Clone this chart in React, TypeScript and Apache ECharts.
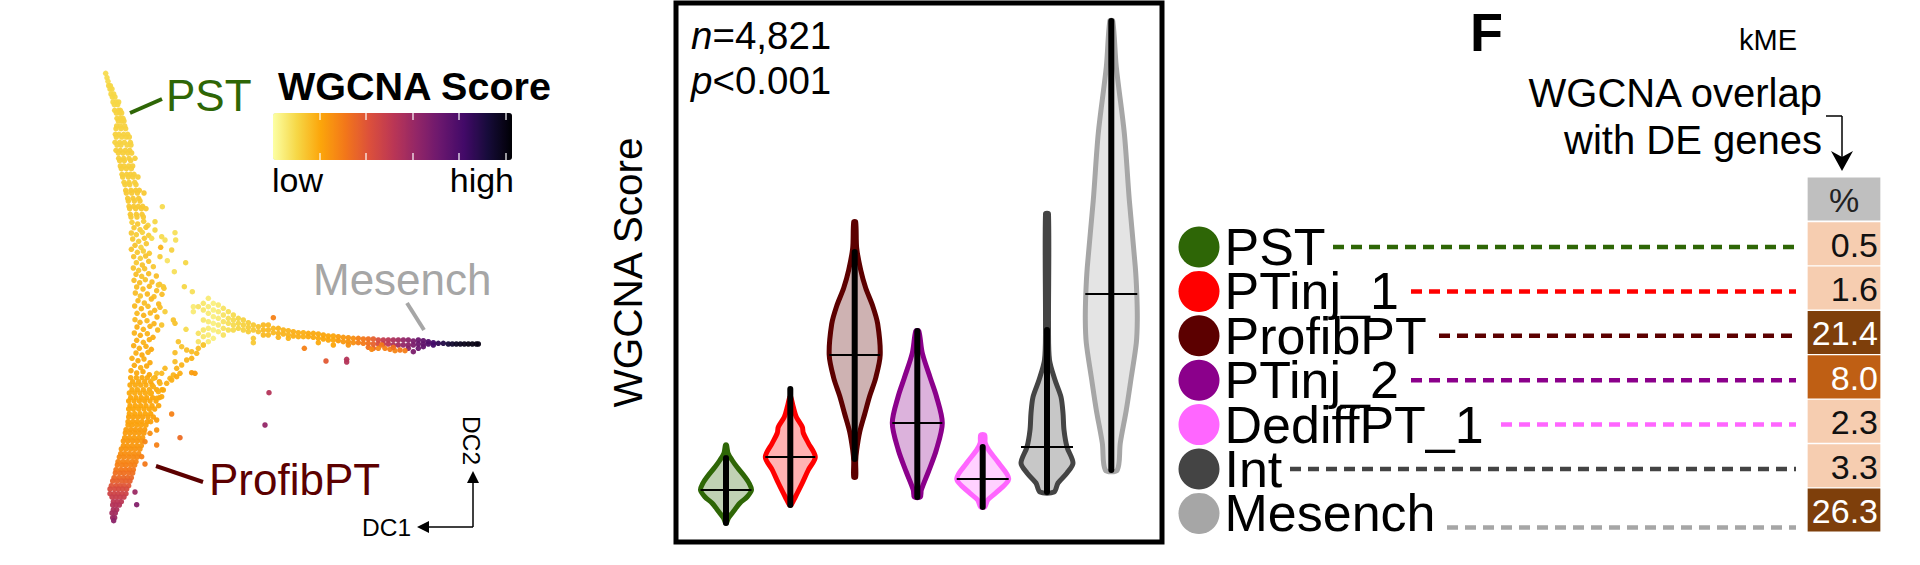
import React, { useEffect, useRef } from "react";
import * as echarts from "echarts";

const FONT = "'Liberation Sans', Arial, sans-serif";

// ---- Embedding (DC1 / DC2), rows: [DC2, score, [DC1...]] ----
const spineRows: [number, number, number[]][] = [
  [100,9,[137]],[113,9,[141]],[124,9,[144]],[137,10,[146,151]],[147,10,[150,156]],[162,10,[153,161]],
  [171,10,[157,165]],[186,10,[159,169,176]],[194,10,[163,173]],[211,11,[164,176,181]],[219,11,[169,179,185]],
  [235,11,[171,181,189]],[243,11,[175,186,192]],[258,11,[170,181,194]],[266,11,[168,183,197]],
  [283,11,[166,177,191,203]],[291,11,[169,185,199,208]],[307,11,[165,179,193,211]],[315,11,[171,183,201,213]],
  [331,12,[168,181,196,209]],[339,12,[175,189,203,215]],[355,12,[176,191,207,225]],[362,12,[179,193,212]],
  [378,12,[181,192,206,218]],[386,12,[184,199,214]],[403,12,[186,200,211,222]],[411,12,[188,205,219,234]],
  [427,12,[192,207,224]],[434,12,[195,209,228]],[451,13,[197,213,227,238]],[459,13,[199,215,232,252]],
  [475,13,[203,219,236]],[483,13,[205,223,240]],[499,13,[207,221,235,248]],[506,13,[209,227,244,258]],
  [523,13,[211,229,246]],[531,13,[213,231,250]],
];
const spineMiddle: [number, number, number][] = [
  [216,547,12],[233,552,13],[251,544,12],[264,556,11],[222,563,13],[240,569,12],[258,562,13],[214,579,13],[229,584,12],[247,577,11],
  [266,586,12],[218,597,13],[236,604,12],[253,595,13],[225,616,14],[243,622,11],[259,611,13],[214,628,14],[232,637,13],[250,633,12],
  [268,640,13],[221,650,14],[241,655,12],[257,648,14],[229,668,13],[247,675,14],[266,664,14],[220,684,14],[236,691,13],[254,686,14],
  [280,680,13],[228,703,15],[245,709,14],[266,701,15],[289,708,15],[222,721,15],[239,728,15],[256,719,14],[276,726,15],[299,733,14],
  [312,745,13],[230,741,15],[249,747,15],[268,739,16],[290,752,15],[226,759,15],[241,768,14],[262,762,16],[282,770,15],[306,763,15],
  [234,782,16],[253,789,15],[274,777,16],[296,792,16],[224,798,16],[244,806,17],[264,799,15],[284,811,16],[300,802,15],[231,820,16],
  [251,826,17],[271,819,16],[291,831,17],[225,839,16],[240,847,17],[261,842,16],[282,851,17],[231,861,18],[250,868,17],[270,859,17],
  [293,870,16],[223,879,17],[241,886,18],[262,881,17],[279,892,18],[230,901,18],[250,907,17],[268,899,18],[221,917,18],[238,925,18],
  [258,919,18],[274,928,19],[228,939,18],[246,945,19],[264,937,18],[216,955,18],[234,962,19],[252,957,18],[270,968,19],[223,976,19],
  [242,983,18],[260,978,19],[213,992,19],[230,999,19],[249,995,19],[268,1004,20],
];
const spineLowerRows: [number, number, number[]][] = [
  [1013,19,[212,229,246,262,285]],[1025,19,[218,236,254,272,298]],
  [1035,19,[210,226,242,258,276]],[1049,19,[216,232,250,268,290,306]],[1059,19,[208,224,240,256,274]],
  [1073,20,[212,228,244,260,278,298]],[1083,20,[206,222,238,254,270,288]],[1097,20,[210,226,242,258,276,296]],
  [1107,20,[206,220,236,252,268,284]],[1121,20,[208,224,240,256,272]],[1131,21,[206,220,234,248,264,280]],
  [1145,21,[204,218,232,246,262,272]],[1155,21,[204,216,230,244,258]],[1169,22,[198,212,226,240,254]],
  [1179,22,[196,210,224,238,252]],[1193,22,[194,208,222,236,248]],[1203,23,[190,204,218,232,246]],
  [1217,23,[190,202,216,230,244]],[1227,24,[184,198,212,226,240]],[1241,25,[182,194,208,222,236]],
  [1251,26,[178,192,206,220,232]],[1265,27,[174,188,202,216,228]],[1275,28,[172,186,198,212,224]],
  [1289,30,[168,182,196,208,220]],[1299,32,[166,180,192,206,218]],[1313,34,[162,176,190,202,214]],
  [1323,36,[158,172,186,198,210]],[1337,39,[154,168,180,192,206]],[1347,42,[150,164,176,188,200]],
  [1361,45,[150,162,174,186,198]],[1371,47,[156,168,180,192]],[1385,50,[160,172,184]],
  [1395,52,[158,168,178]],[1409,54,[160,170]],[1419,56,[156,166]],[1433,58,[158,164]],[1442,62,[161]],
];

// Columns: [DC1, score, [DC2...]]
const fanColumns: [number, number, number[]][] = [
  [400,5,[800,815]],[415,7,[800,880,905]],[430,6,[790,810,840,870,890,915]],[445,5,[775,800,820,845,865,885,905]],
  [460,4,[790,810,830,850,870,895]],[475,5,[795,815,835,855,875]],[490,7,[805,825,845,865,885]],
  [505,8,[815,835,850,870]],[520,9,[825,840,855,870]],[535,10,[835,850,865]],[550,11,[840,855,870]],
  [565,12,[848,862,875]],[580,13,[855,870,895,908]],[595,14,[860,875]],
];
const mesenchColumns: [number, number, number[]][] = [
  [610,16,[855,870,885]],[625,16,[855,870,885]],[640,16,[865,878]],[655,17,[865,880,892]],[670,17,[870,882]],
  [685,17,[872,885,895]],[700,18,[875,888]],[715,18,[878,890]],[730,18,[878,890]],[745,19,[880,890]],
  [760,19,[880,892]],[775,19,[882,895,908]],[790,20,[885,897]],[805,20,[888,900]],[820,20,[888,900,915]],
  [835,22,[890,902]],[850,23,[892,905]],[865,24,[893,905,915]],[880,25,[895,908]],[895,28,[895,908]],
  [910,30,[897,910]],[925,32,[897,910,922]],[940,36,[897,912,925]],[955,42,[900,912]],[970,48,[900,912]],
  [985,50,[900,912]],[1000,54,[900,915]],[1015,56,[900,915]],[1030,60,[900,915]],[1045,62,[900,915,925]],
  [1060,66,[903,915,935]],[1075,70,[900,912,925]],[1090,72,[902,912,920]],[1105,76,[905,912]],[1120,80,[908,915]],
  [1135,84,[910]],[1150,87,[910]],[1165,90,[912]],[1177,92,[912]],[1189,94,[912]],[1201,95,[912]],
  [1213,96,[912]],[1225,97,[912]],[1237,97,[912]],[1249,97,[912]],[1255,97,[912]],
];
const orangeUnderside: [number, number, number][] = [
  [935,928,26],[955,925,27],[975,925,28],[990,928,29],[1005,932,27],[1020,930,30],[1035,932,29],[965,915,30],[1000,922,32],
];
const branchPoints: [number, number, number][] = [
  [355,905,14],[365,920,14],[345,938,15],[380,930,15],[395,935,15],[415,925,15],[430,915,14],[395,955,17],[410,940,16],
  [380,960,17],[365,975,17],[350,985,17],[360,1000,18],[340,1005,17],[330,1015,17],[315,985,16],[345,965,15],[305,1000,16],
  [290,1000,15],[280,1015,16],[300,1030,17],[320,1030,18],[335,1020,18],[350,1010,19],[310,1050,19],[295,1055,18],
  [280,1040,18],[270,1060,18],[305,1070,19],[290,1075,19],[395,998,22],[405,1000,22],
];
const strayPoints: [number, number, number][] = [
  [307,500,9],[285,545,10],[285,570,10],[275,595,9],[345,578,8],[347,600,8],[305,590,9],[315,600,8],[302,622,17],[335,630,11],
  [322,662,7],[377,668,10],[343,695,8],[300,650,12],[295,735,13],[310,740,13],[373,740,10],[397,755,8],
  [315,815,12],[340,840,14],[345,850,14],[305,855,14],[378,868,9],[640,833,28],
  [335,1122,28],[360,1193,33],[290,1140,22],[290,1170,24],[270,1180,25],[290,1215,28],[255,1205,27],[245,1250,28],[255,1272,30],
  [225,1356,58],[230,1394,64],[627,1058,52],[615,1155,60],[733,925,28],[798,963,38],[860,958,52],[860,966,52],
];
const embedding = [
  ...spineRows.flatMap(([y, s, xs]) => xs.map((x) => [x, y, s])),
  ...spineMiddle,
  ...spineLowerRows.flatMap(([y, s, xs]) => xs.map((x) => [x, y, s])),
  ...fanColumns.flatMap(([x, s, ys]) => ys.map((y) => [x, y, s])),
  ...mesenchColumns.flatMap(([x, s, ys]) => ys.map((y) => [x, y, s])),
  ...orangeUnderside,
  ...branchPoints,
  ...strayPoints,
];

// ---- Cell groups ----
const groups = ["PST", "PTinj_1", "ProfibPT", "PTinj_2", "DediffPT_1", "Int", "Mesench"];
const groupColors = ["#2e6606", "#ff0000", "#5c0000", "#8b008b", "#ff66ff", "#444444", "#a6a6a6"];

// ---- Violins: [score, half width] ----
const violinPST = [[97,0.5],[89,2],[82,6],[75,11],[65,19],[59,23],[52,25.5],[45,21],[39,14],[30,7],[24,2.5],[19,0.5]];
const violinPTinj1 = [[145,0.5],[135,3],[125,6],[115,12],[109,13],[99,18],[85,25],[72,18],[59,12],[45,5],[37,0.8]];
const violinProfib = [[320,1],[294,2],[272,6],[254,11],[236,18],[218,23],[187,25.5],[164,21],[146,15],[128,10],[110,5],[92,2],[81,1],[65,1]];
const violinPTinj2 = [[211,1.5],[189,5],[164,13],[146,19],[119,25],[92,19],[70,11],[52,4],[45,3]];
const violinDediff = [[107,2],[99,2.5],[92,6],[79,16],[63,26],[49,13],[42,5],[35,2]];
const violinInt = [[328,1.5],[212,1.5],[182,2.5],[162,8],[145,14],[129,16],[112,17],[95,20],[79,26],[69,20],[59,11],[50,7]];
const violinMesench = [[521,1.5],[475,5],[409,13],[342,18],[275,24],[248,25.5],[222,26],[199,25],[165,20],[132,15],[99,9],[72,6]];
const violins = [violinPST, violinPTinj1, violinProfib, violinPTinj2, violinDediff, violinInt, violinMesench];
const violinMedians = [52, 85, 187, 119, 63, 95, 248];
const violinBarTops = [84, 153, 290, 211, 95, 212, 521];
const violinBarBottoms = [19, 37, 83, 45, 35, 50, 72];
const violinSlots = [0, 64.3, 128.7, 191.3, 256.7, 321, 385.3];

// ---- Overlap table ----
const overlapLabels = ["0.5", "1.6", "21.4", "8.0", "2.3", "3.3", "26.3"];
const overlapFills = ["#f6cdb0", "#f6cdb0", "#7e3f0b", "#bf5f14", "#f6cdb0", "#f6cdb0", "#7e3f0b"];
const overlapInk = ["#111", "#111", "#fff", "#fff", "#111", "#111", "#fff"];

// Layout of the leaders in the legend panel
const leaderStarts = [1333, 1411, 1439, 1411, 1501, 1290, 1447];
const leaderRows = [0, 1, 2, 3, 4, 5, 6.32];

const inferno = ["#fcffa4", "#f6d746", "#fca50a", "#f37819", "#dd513a", "#bc3754", "#932667", "#6a176e", "#420a68", "#160b39", "#000004"];

function txt(text: string, x: number, base: number, size: number, extra: any = {}, el: any = {}) {
  return {
    type: "text", x, y: base - size * 0.35, z: 30, silent: true, ...el,
    style: { text, fontSize: size, fontFamily: FONT, fill: "#000", verticalAlign: "middle", align: "left", ...extra },
  };
}
function seg(x1: number, y1: number, x2: number, y2: number, stroke: string, lineWidth: number) {
  return { type: "line", z: 30, silent: true, shape: { x1, y1, x2, y2 }, style: { stroke, lineWidth } };
}
function poly(points: number[][], fill: string) {
  return { type: "polygon", z: 30, silent: true, shape: { points }, style: { fill } };
}

export default function App() {
  const ref = useRef<HTMLDivElement>(null);
  useEffect(() => {
    const chart = echarts.init(ref.current!, undefined, { renderer: "svg" });
    const tick = [320, 366, 413, 459, 506];
    const option: any = {
      animation: false,
      backgroundColor: "#fff",
      grid: [
        { left: 60, top: 40, width: 480, height: 525 },
        { left: 676, top: 3, width: 486, height: 539, show: true, borderColor: "#000", borderWidth: 5, backgroundColor: "transparent" },
        { left: 1160, top: 202.6, width: 760, height: 355.2 },
      ],
      xAxis: [
        { gridIndex: 0, type: "value", min: 0, max: 1440, show: false },
        { gridIndex: 1, type: "value", min: -50, max: 436, show: false },
        { gridIndex: 2, type: "value", min: 1160, max: 1920, show: false },
      ],
      yAxis: [
        { gridIndex: 0, type: "value", min: 0, max: 1575, inverse: true, show: false },
        {
          gridIndex: 1, type: "value", min: 0, max: 539, name: "WGCNA Score", nameLocation: "middle", nameGap: 28,
          nameTextStyle: { fontSize: 40.5, fontFamily: FONT, color: "#000" },
          axisLine: { show: false }, axisTick: { show: false }, axisLabel: { show: false }, splitLine: { show: false },
        },
        { gridIndex: 2, type: "value", min: -1, max: 7, inverse: true, show: false },
      ],
      visualMap: {
        type: "continuous", seriesIndex: 0, dimension: 2, min: 0, max: 100, orient: "horizontal",
        left: 273, top: 113, itemWidth: 47, itemHeight: 239, padding: 0, calculable: false, showLabel: false, text: undefined,
        hoverLink: false, inRange: { color: inferno },
      },
      series: [
        {
          type: "scatter", xAxisIndex: 0, yAxisIndex: 0, symbolSize: 5.5, data: embedding, silent: true,
          itemStyle: { opacity: 0.95 },
        },
        {
          type: "custom", xAxisIndex: 1, yAxisIndex: 1, silent: true, clip: false,
          data: groups.map((_, i) => [violinSlots[i], violinMedians[i], i]),
          renderItem: (params: any, api: any) => {
            const i = params.dataIndex;
            const cx = violinSlots[i];
            const prof = violins[i];
            const right = prof.map(([s, w]) => api.coord([cx + w, s]));
            const left = prof.slice().reverse().map(([s, w]) => api.coord([cx - w, s]));
            const color = groupColors[i];
            const medW = Math.max(...prof.map((p) => p[1]));
            const a = api.coord([cx, violinBarTops[i]]);
            const b = api.coord([cx, violinBarBottoms[i]]);
            const m0 = api.coord([cx - medW, violinMedians[i]]);
            const m1 = api.coord([cx + medW, violinMedians[i]]);
            return {
              type: "group",
              children: [
                {
                  type: "polygon", shape: { points: [...right, ...left], smooth: 0.3 },
                  style: { fill: echarts.color.modifyAlpha(color, 0.3), stroke: color, lineWidth: 5, lineJoin: "round" },
                },
                { type: "line", shape: { x1: a[0], y1: a[1], x2: b[0], y2: b[1] }, style: { stroke: "#000", lineWidth: 6, lineCap: "round" } },
                { type: "line", shape: { x1: m0[0], y1: m0[1], x2: m1[0], y2: m1[1] }, style: { stroke: "#000", lineWidth: 1.8 } },
              ],
            };
          },
        },
        ...groups.map((g, i) => ({
          type: "line", xAxisIndex: 2, yAxisIndex: 2, silent: true, symbol: "none",
          data: [[leaderStarts[i], leaderRows[i]], [1796, leaderRows[i]]],
          lineStyle: { color: groupColors[i], width: 4.5, type: [11, 7] },
        })),
        {
          type: "scatter", xAxisIndex: 2, yAxisIndex: 2, symbolSize: 41, silent: true, z: 3,
          data: groups.map((g, i) => ({ value: [1199, i], name: g, itemStyle: { color: groupColors[i], opacity: 1 } })),
          label: {
            show: true, position: "right", distance: 5, formatter: "{b}", fontSize: 52, fontFamily: FONT, color: "#000",
          },
        },
        {
          type: "custom", xAxisIndex: 2, yAxisIndex: 2, silent: true, clip: false,
          data: ["%", ...overlapLabels].map((_, i) => [1844, i - 1.08]),
          renderItem: (params: any, api: any) => {
            const i = params.dataIndex;
            const c = api.coord([1844, i === 0 ? -1.08 : i - 1 - 0.075]);
            const size = api.size([72.7, 0.97]);
            const isHead = i === 0;
            return {
              type: "group",
              children: [
                { type: "rect", shape: { x: c[0] - size[0] / 2, y: c[1] - size[1] / 2, width: size[0], height: size[1] }, style: { fill: isHead ? "#bfbfbf" : overlapFills[i - 1] } },
                {
                  type: "text", x: isHead ? c[0] : c[0] + 34, y: c[1] + 1,
                  style: {
                    text: isHead ? "%" : overlapLabels[i - 1], fontSize: 34, fontFamily: FONT,
                    fill: isHead ? "#222" : overlapInk[i - 1], align: isHead ? "center" : "right", verticalAlign: "middle",
                  },
                },
              ],
            };
          },
        },
      ],
      graphic: [
        txt("PST", 166, 111, 44, { fill: "#2e6606" }),
        seg(130, 113, 162, 99, "#2e6606", 4),
        txt("WGCNA Score", 278, 100, 39.5, { fontWeight: "bold" }),
        ...tick.flatMap((x) => [seg(x, 113, x, 120, "#fff", 1.2), seg(x, 153, x, 160, "#fff", 1.2)]),
        txt("low", 272, 192, 34),
        txt("high", 514, 192, 34, { align: "right" }),
        txt("Mesench", 313, 295, 44, { fill: "#a6a6a6" }),
        seg(407, 303, 424, 330, "#a6a6a6", 4),
        txt("ProfibPT", 209, 495, 44, { fill: "#5c0000" }),
        seg(156, 466, 203, 482, "#5c0000", 4),
        txt("DC1", 362, 536, 24.5),
        txt("DC2", 471, 416, 24.5, { verticalAlign: "middle" }, { y: 416, rotation: -Math.PI / 2 }),
        seg(473, 527, 473, 478, "#000", 1.5),
        seg(473, 527, 425, 527, "#000", 1.5),
        poly([[473, 471], [467, 483], [479, 483]], "#000"),
        poly([[417, 527], [429, 521], [429, 533]], "#000"),
        txt("{i|n}=4,821", 691, 49, 38.5, { rich: { i: { fontStyle: "italic", fontSize: 38.5, fontFamily: FONT } } }),
        txt("{i|p}<0.001", 691, 94, 38.5, { rich: { i: { fontStyle: "italic", fontSize: 38.5, fontFamily: FONT } } }),
        txt("F", 1470, 51, 54, { fontWeight: "bold" }),
        txt("kME", 1739, 50, 29),
        txt("WGCNA overlap", 1822, 107, 40, { align: "right" }),
        txt("with DE genes", 1822, 154, 40, { align: "right" }),
        seg(1826, 116, 1842, 116, "#000", 1.5),
        seg(1842, 116, 1842, 160, "#000", 1.5),
        poly([[1842, 171], [1831, 151], [1842, 157], [1853, 151]], "#000"),
      ],
    };
    chart.setOption(option);
    return () => chart.dispose();
  }, []);
  return <div ref={ref} style={{ position: "fixed", left: 0, top: 0, width: 1920, height: 565, background: "#fff" }} />;
}
